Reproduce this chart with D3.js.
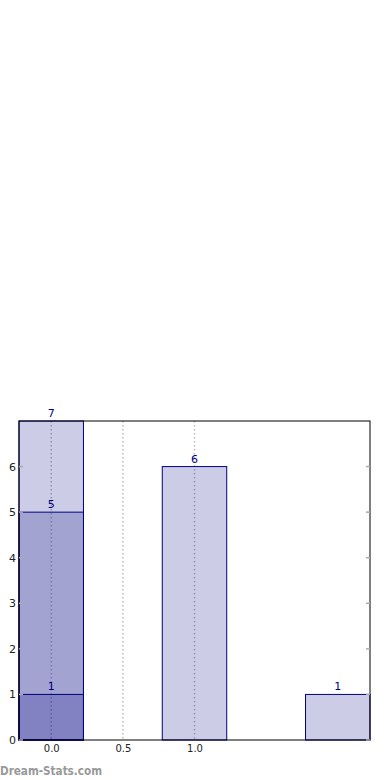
<!DOCTYPE html>
<html><head><meta charset="utf-8">
<script src="https://cdn.jsdelivr.net/npm/d3@7"></script>
<style>body{margin:0;background:#fff}svg{display:block}</style>
</head><body>
<svg id="c" width="390" height="780"></svg>
<script>
// Data
const categories = [0, 1, 2];
const barValues = [
  {cat: 0, value: 7},
  {cat: 0, value: 5},
  {cat: 0, value: 1},
  {cat: 1, value: 6},
  {cat: 2, value: 1}
];
const xTickValues = [0, 0.5, 1.0];
const xTickLabels = ["0.0", "0.5", "1.0"];
const yTickValues = [0, 1, 2, 3, 4, 5, 6];

const svg = d3.select("#c");
const m = {left: 19, right: 370, top: 421, bottom: 740};
const barWidth = 0.45;
const x = d3.scaleLinear().domain([-0.225, 2.225]).range([m.left, m.right]);
const y = d3.scaleLinear().domain([0, 7]).range([m.bottom, m.top]);

// grid (dotted vertical)
svg.append("g").selectAll("line").data(xTickValues).join("line")
  .attr("x1", d => x(d)).attr("x2", d => x(d))
  .attr("y1", m.top).attr("y2", m.bottom)
  .attr("stroke", "#bbb").attr("stroke-width", 1.5).attr("stroke-dasharray", "1.5,2.5");

// bars
svg.append("g").selectAll("rect").data(barValues).join("rect")
  .attr("x", d => x(d.cat - barWidth/2))
  .attr("width", d => x(d.cat + barWidth/2) - x(d.cat - barWidth/2))
  .attr("y", d => y(d.value))
  .attr("height", d => y(0) - y(d.value))
  .attr("fill", "rgba(0,0,128,0.2)")
  .attr("stroke", "#000080").attr("stroke-width", 1);

// labels
svg.append("g").selectAll("text").data(barValues).join("text")
  .attr("x", d => x(d.cat)).attr("y", d => y(d.value) - 4)
  .attr("text-anchor", "middle")
  .attr("font-family", "DejaVu Sans").attr("font-size", 11)
  .attr("fill", "#000080").text(d => d.value);

// frame
svg.append("rect").attr("x", m.left).attr("y", m.top)
  .attr("width", m.right - m.left).attr("height", m.bottom - m.top)
  .attr("fill", "none").attr("stroke", "#000").attr("stroke-width", 1);

// y axis
const yAxis = d3.axisLeft(y).tickValues(yTickValues).tickSize(0).tickPadding(3).tickFormat(d3.format("d"));
const gy = svg.append("g").attr("transform", `translate(${m.left},0)`).call(yAxis);
gy.select(".domain").remove();
gy.selectAll("text").attr("font-family", "DejaVu Sans").attr("font-size", 11).attr("fill", "#222");
// inner ticks
svg.append("g").selectAll("line").data(yTickValues).join("line")
  .attr("x1", m.left).attr("x2", m.left + 4).attr("y1", d => y(d)).attr("y2", d => y(d))
  .attr("stroke", "#aaa").attr("stroke-width", 1.5);
svg.append("g").selectAll("line").data(yTickValues).join("line")
  .attr("x1", m.right - 4).attr("x2", m.right).attr("y1", d => y(d)).attr("y2", d => y(d))
  .attr("stroke", "#aaa").attr("stroke-width", 1.5);

// x axis
const xAxis = d3.axisBottom(x).tickValues(xTickValues).tickSize(0).tickPadding(5)
  .tickFormat((d, i) => xTickLabels[i]);
const gx = svg.append("g").attr("transform", `translate(0,${m.bottom})`).call(xAxis);
gx.select(".domain").remove();
gx.selectAll("text").attr("font-family", "DejaVu Sans").attr("font-size", 10).attr("fill", "#222");

// watermark
svg.append("text").attr("x", 0).attr("y", 775)
  .attr("font-family", "DejaVu Sans").attr("font-size", 12).attr("font-weight", "600")
  .attr("textLength", 102).attr("lengthAdjust", "spacingAndGlyphs")
  .attr("fill", "#999").text("Dream-Stats.com");
</script>
</body></html>
